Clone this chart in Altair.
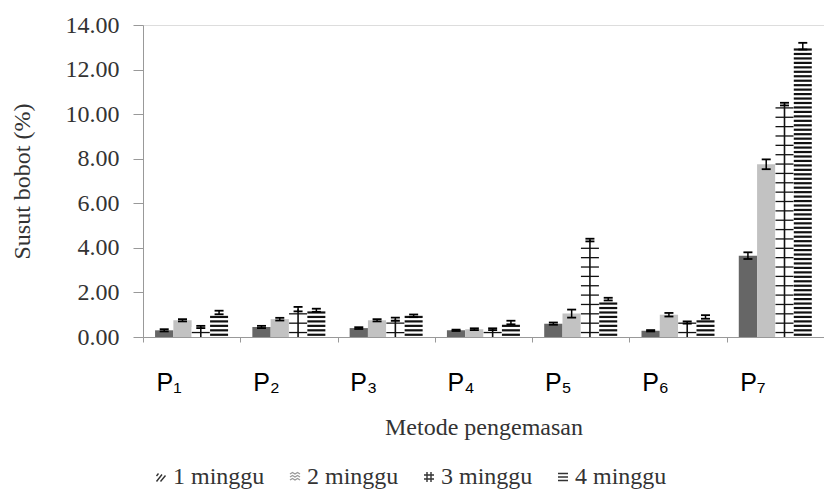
import altair as alt
import pandas as pd

categories = ["P₁", "P₂", "P₃", "P₄", "P₅", "P₆", "P₇"]
weeks = ["1 minggu", "2 minggu", "3 minggu", "4 minggu"]
week_no = [1, 2, 3, 4]

minggu1 = [0.30, 0.45, 0.40, 0.30, 0.60, 0.28, 3.65]
minggu2 = [0.75, 0.80, 0.75, 0.35, 1.05, 1.00, 7.75]
minggu3 = [0.45, 1.25, 0.80, 0.35, 4.35, 0.65, 10.45]
minggu4 = [1.10, 1.20, 0.95, 0.65, 1.70, 0.90, 13.05]

err1 = [0.05, 0.05, 0.04, 0.03, 0.05, 0.03, 0.15]
err2 = [0.05, 0.06, 0.05, 0.04, 0.18, 0.08, 0.22]
err3 = [0.05, 0.10, 0.07, 0.04, 0.06, 0.05, 0.06]
err4 = [0.08, 0.07, 0.06, 0.08, 0.06, 0.08, 0.15]

y_ticks = [0, 2, 4, 6, 8, 10, 12, 14]

fill_colors = ["#666666", "#c2c2c2", "#ffffff", "#ffffff"]
legend_strokes = ["#333333", "#9a9a9a", "#333333", "#333333"]
legend_paths = [
    "M-0.9,0.9L0.2,-0.5M-0.1,0.9L0.9,-0.3M-0.9,-0.2L-0.5,-0.7",
    "M-1,-0.6L-0.5,-0.9L0,-0.6L0.5,-0.9L1,-0.6M-1,0L-0.5,-0.3L0,0L0.5,-0.3L1,0M-1,0.6L-0.5,0.3L0,0.6L0.5,0.3L1,0.6",
    "M-0.4,-1L-0.4,1M0.4,-1L0.4,1M-1,-0.4L1,-0.4M-1,0.4L1,0.4",
    "M-1,-0.7L1,-0.7M-1,0L1,0M-1,0.7L1,0.7",
]

rows = []
for w, n, vals, errs in zip(weeks, week_no, [minggu1, minggu2, minggu3, minggu4], [err1, err2, err3, err4]):
    for c, v, e in zip(categories, vals, errs):
        rows.append({"kategori": c, "minggu": w, "urut": n, "nilai": v, "galat": e})
df = pd.DataFrame(rows)

SERIF = "Liberation Serif"

x_axis = alt.Axis(
    labelAngle=0, labelFont="Liberation Sans", labelFontSize=25, labelColor="#000",
    labelPadding=28, labelOffset=-23,
    tickBand="extent", tickSize=5, tickColor="#999",
    domainColor="#999", titleFont=SERIF, titleFontSize=24, titleFontWeight="normal",
    titleColor="#333", titlePadding=20, grid=False,
)
y_axis = alt.Axis(
    values=y_ticks, format=".2f", labelFont=SERIF, labelFontSize=24, labelColor="#333",
    labelPadding=14, tickSize=10, tickColor="#999", domainColor="#999", grid=False,
    titleFont=SERIF, titleFontSize=24, titleFontWeight="normal", titleColor="#333",
    titlePadding=31,
)


def X():
    return alt.X("kategori:N", sort=categories, title="Metode pengemasan",
                 scale=alt.Scale(domain=categories, paddingInner=0, paddingOuter=0), axis=x_axis)


def XO():
    return alt.XOffset("minggu:N", sort=weeks,
                       scale=alt.Scale(domain=weeks, paddingInner=0, paddingOuter=0.66))


def Y(field):
    return alt.Y(field, title="Susut bobot (%)",
                 scale=alt.Scale(domain=[0, 14], nice=False), axis=y_axis)


base = alt.Chart(df)

bars = base.mark_bar().encode(
    x=X(), xOffset=XO(), y=Y("nilai:Q"),
    fill=alt.Fill("urut:O", scale=alt.Scale(domain=week_no, range=fill_colors), legend=None),
)

stripes4 = (
    base.transform_filter(alt.datum.minggu == "4 minggu")
    .transform_calculate(lv="sequence(0.1, datum.nilai, 0.2)")
    .transform_flatten(["lv"])
    .mark_tick(size=18, thickness=2.2, color="#111", opacity=1)
    .encode(x=X(), xOffset=XO(), y=Y("lv:Q"))
)

stripes3 = (
    base.transform_filter(alt.datum.minggu == "3 minggu")
    .transform_calculate(lv="sequence(0.2, datum.nilai, 0.42)")
    .transform_flatten(["lv"])
    .mark_tick(size=18, thickness=1.3, color="#111", opacity=1)
    .encode(x=X(), xOffset=XO(), y=Y("lv:Q"))
)

center3 = (
    base.transform_filter(alt.datum.minggu == "3 minggu")
    .mark_rule(color="#111", strokeWidth=1.6)
    .encode(x=X(), xOffset=XO(), y=Y("nilai:Q"), y2=alt.datum(0))
)

err_rule = (
    base.transform_calculate(lo="datum.nilai - datum.galat", hi="datum.nilai + datum.galat")
    .mark_rule(color="#000", strokeWidth=1.5)
    .encode(x=X(), xOffset=XO(), y=Y("lo:Q"), y2="hi:Q")
)

err_caps = (
    base.transform_calculate(lo="datum.nilai - datum.galat", hi="datum.nilai + datum.galat")
    .transform_fold(["lo", "hi"], as_=["jenis", "ujung"])
    .mark_tick(size=9, thickness=1.8, color="#000", opacity=1)
    .encode(x=X(), xOffset=XO(), y=Y("ujung:Q"))
)

leg = alt.Legend(
    title=None, orient="none", legendX=6, legendY=440, direction="horizontal",
    labelFont=SERIF, labelFontSize=24, labelColor="#333", symbolSize=100,
    symbolStrokeWidth=1.4, symbolOpacity=1, columnPadding=18, labelOffset=0,
)

legend_layer = (
    base.mark_point(filled=False, size=0, strokeOpacity=0)
    .encode(
        x=X(), xOffset=XO(), y=Y("nilai:Q"),
        shape=alt.Shape("minggu:N", scale=alt.Scale(domain=weeks, range=legend_paths), legend=leg),
        stroke=alt.Stroke("minggu:N", scale=alt.Scale(domain=weeks, range=legend_strokes), legend=leg),
    )
)

chart = (
    alt.layer(bars, stripes4, stripes3, center3, err_rule, err_caps, legend_layer)
    .properties(
        width=681, height=312,
        autosize=alt.AutoSizeParams(type="none"),
        padding={"left": 135, "top": 17, "right": 0, "bottom": 162},
    )
    .configure_view(strokeWidth=0)
    .configure_legend(labelFont=SERIF, labelFontSize=24, labelColor="#333")
    .configure(background="white", font=SERIF)
)

chart.save("out.html", embed_options={"renderer": "svg", "actions": False})
